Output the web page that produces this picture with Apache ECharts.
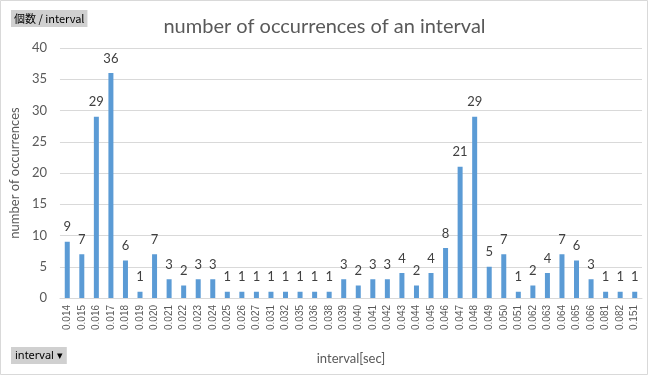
<!DOCTYPE html>
<html>
<head>
<meta charset="utf-8">
<script src="https://cdn.jsdelivr.net/npm/echarts@6/dist/echarts.min.js"></script>
<style>
html,body{margin:0;padding:0;background:#fff;}
#main{width:649px;height:376px;}
</style>
</head>
<body>
<div id="main"></div>
<script>
// 区間ごとの出現回数
var categories = ['0.014','0.015','0.016','0.017','0.018','0.019','0.020','0.021','0.022','0.023',
    '0.024','0.025','0.026','0.027','0.031','0.032','0.035','0.036','0.038','0.039',
    '0.040','0.041','0.042','0.043','0.044','0.045','0.046','0.047','0.048','0.049',
    '0.050','0.051','0.062','0.063','0.064','0.065','0.066','0.081','0.082','0.151'];
var counts = [9,7,29,36,6,1,7,3,2,3,
    3,1,1,1,1,1,1,1,1,3,
    2,3,3,4,2,4,8,21,29,5,
    7,1,2,4,7,6,3,1,1,1];
var yTicks = [0,5,10,15,20,25,30,35,40];

var fontFam = 'Lato, "Noto Sans", sans-serif';
var chart = echarts.init(document.getElementById('main'));
var option = {
    animation:false,
    backgroundColor:'#fff',
    title:[{
        text:'number of occurrences of an interval',
        left:'center',
        top:12,
        textStyle:{color:'#595959',fontSize:20,fontWeight:'normal',fontFamily:fontFam}
    },{
        text:'個数 / interval',
        left:11,
        top:10,
        padding:[3,3,3,3],
        backgroundColor:'#d0d0d0',
        textStyle:{color:'#000',fontSize:11,fontWeight:'normal',fontFamily:'"Noto Sans CJK JP", sans-serif'}
    },{
        text:'interval ▾',
        left:11,
        top:347,
        padding:[3,4,3,4],
        backgroundColor:'#d0d0d0',
        textStyle:{color:'#000',fontSize:11,fontWeight:'normal',fontFamily:'"Noto Sans", sans-serif'}
    }],
    graphic:[{
        type:'rect',
        shape:{x:0.5,y:0.5,width:647,height:374},
        style:{fill:'none',stroke:'#d9d9d9',lineWidth:1},
        silent:true
    }],
    grid:{left:55,right:7,top:48,bottom:78},
    xAxis:{
        type:'category',
        data:categories,
        name:'interval[sec]',
        nameLocation:'middle',
        nameGap:54,
        nameTextStyle:{color:'#595959',fontSize:13,fontFamily:fontFam},
        axisLine:{lineStyle:{color:'#d9d9d9'}},
        axisTick:{show:false},
        axisLabel:{rotate:90,interval:0,color:'#595959',fontSize:10,fontFamily:'"Liberation Sans", sans-serif',margin:7}
    },
    yAxis:{
        type:'value',
        min:yTicks[0],
        max:yTicks[yTicks.length-1],
        interval:5,
        name:'number of occurrences',
        nameLocation:'middle',
        nameGap:38,
        nameTextStyle:{color:'#595959',fontSize:13,fontFamily:fontFam},
        axisLine:{show:false},
        axisTick:{show:false},
        axisLabel:{color:'#595959',fontSize:13,fontFamily:fontFam,margin:13},
        splitLine:{lineStyle:{color:'#d9d9d9'}}
    },
    series:[{
        type:'bar',
        data:counts,
        barWidth:5,
        itemStyle:{color:'#5b9bd5'},
        label:{show:true,position:'top',distance:8,color:'#404040',fontSize:13,fontFamily:fontFam}
    }]
};
chart.setOption(option);
</script>
</body>
</html>
